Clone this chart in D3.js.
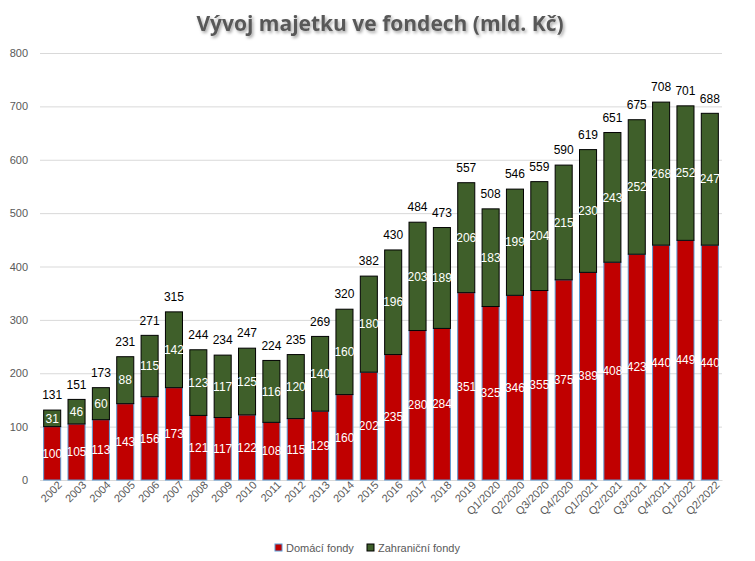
<!DOCTYPE html>
<html><head><meta charset="utf-8">
<script src="https://cdn.jsdelivr.net/npm/d3@7"></script>
<style>body{margin:0;background:#fff}svg{display:block}</style>
</head><body>
<script>
const categories = ["2002","2003","2004","2005","2006","2007","2008","2009","2010","2011","2012","2013","2014","2015","2016","2017","2018","2019","Q1/2020","Q2/2020","Q3/2020","Q4/2020","Q1/2021","Q2/2021","Q3/2021","Q4/2021","Q1/2022","Q2/2022"];
const domaci = [100,105,113,143,156,173,121,117,122,108,115,129,160,202,235,280,284,351,325,346,355,375,389,408,423,440,449,440];
const zahranicni = [31,46,60,88,115,142,123,117,125,116,120,140,160,180,196,203,189,206,183,199,204,215,230,243,252,268,252,247];
const totals = [131,151,173,231,271,315,244,234,247,224,235,269,320,382,430,484,473,557,508,546,559,590,619,651,675,708,701,688];
const yTicks = [0,100,200,300,400,500,600,700,800];
const seriesNames = ["Domácí fondy","Zahraniční fondy"];

const W=755,H=561;
const m={left:40,right:33,top:53,bottom:81};
const svg=d3.select("body").append("svg").attr("width",W).attr("height",H);
const defs=svg.append("defs");
const f=defs.append("filter").attr("id","sh").attr("x","-10%").attr("y","-30%").attr("width","120%").attr("height","160%");
f.append("feDropShadow").attr("dx",1.5).attr("dy",2).attr("stdDeviation",1.5).attr("flood-color","#000").attr("flood-opacity",0.35);

const x=d3.scaleBand().domain(categories).range([m.left,W-m.right]).paddingInner(0.3).paddingOuter(0.15);
const y=d3.scaleLinear().domain([0,800]).range([H-m.bottom,m.top]);

svg.append("text").attr("x",380).attr("y",31).attr("text-anchor","middle")
  .attr("font-family","Open Sans, sans-serif").attr("font-weight","bold").attr("font-size",21)
  .attr("fill","#595959").attr("filter","url(#sh)").text("Vývoj majetku ve fondech (mld. Kč)");

const ya=svg.append("g").attr("transform",`translate(${m.left},0)`)
  .call(d3.axisLeft(y).tickValues(yTicks).tickSize(-(W-m.right-m.left)).tickPadding(12));
ya.select(".domain").remove();
ya.selectAll("line").attr("stroke","#d9d9d9");
ya.selectAll("text").attr("fill","#595959").attr("font-family","Liberation Sans, Arial, sans-serif").attr("font-size",11);

const xa=svg.append("g").attr("transform",`translate(0,${y(0)})`).call(d3.axisBottom(x).tickSize(0).tickPadding(6));
xa.select(".domain").attr("stroke","#d9d9d9");
xa.selectAll("text").attr("fill","#595959").attr("font-family","Liberation Sans, Arial, sans-serif").attr("font-size",11)
  .attr("text-anchor","end").attr("dx","0.3em").attr("dy","0.5em").attr("transform","rotate(-45)");

const g=svg.append("g");
categories.forEach((c,i)=>{
  const d=domaci[i], z=zahranicni[i];
  g.append("rect").attr("x",x(c)).attr("width",x.bandwidth()).attr("y",y(d)).attr("height",y(0)-y(d))
    .attr("fill","#C00000").attr("stroke","#5B9BD5").attr("stroke-width",1);
  g.append("rect").attr("x",x(c)).attr("width",x.bandwidth()).attr("y",y(d+z)).attr("height",y(d)-y(d+z))
    .attr("fill","#3F5F2A").attr("stroke","#000").attr("stroke-width",1);
});
const lf="Liberation Sans, Arial, sans-serif";
categories.forEach((c,i)=>{
  const d=domaci[i], z=zahranicni[i], cx=x(c)+x.bandwidth()/2;
  g.append("text").attr("x",cx).attr("y",y(d/2)).attr("dy","0.35em").attr("text-anchor","middle")
    .attr("fill","#fff").attr("font-family",lf).attr("font-size",12).text(d);
  g.append("text").attr("x",cx).attr("y",y(d+z/2)).attr("dy","0.35em").attr("text-anchor","middle")
    .attr("fill","#fff").attr("font-family",lf).attr("font-size",12).text(z);
  g.append("text").attr("x",cx).attr("y",y(d+z)-15).attr("dy","0.35em").attr("text-anchor","middle")
    .attr("fill","#000").attr("font-family",lf).attr("font-size",12).text(totals[i]);
});

const leg=svg.append("g");
const items=[{n:seriesNames[0],fill:"#C00000",st:"#5B9BD5",x:275},{n:seriesNames[1],fill:"#3F5F2A",st:"#000",x:367}];
items.forEach(it=>{
  leg.append("rect").attr("x",it.x).attr("y",544).attr("width",7).attr("height",7).attr("fill",it.fill).attr("stroke",it.st);
  leg.append("text").attr("x",it.x+11).attr("y",548).attr("dy","0.35em").attr("fill","#595959")
    .attr("font-family",lf).attr("font-size",11).text(it.n);
});
</script>
</body></html>
